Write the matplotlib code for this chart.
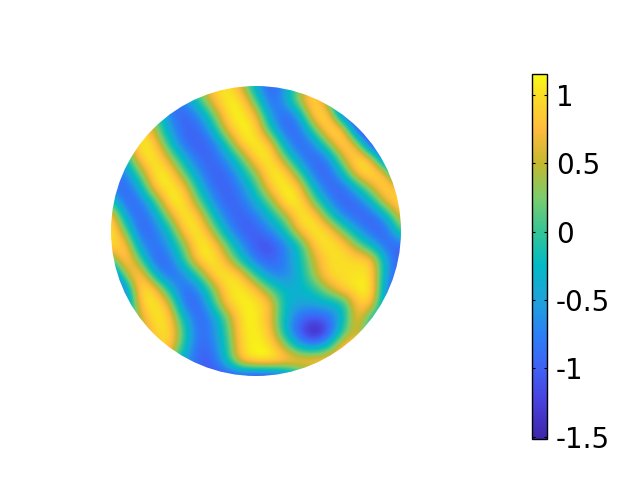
import numpy as np
import matplotlib
matplotlib.use('Agg')
import matplotlib.pyplot as plt
from matplotlib.colors import LinearSegmentedColormap
from matplotlib.patches import Circle

# field values, one row per line, top row first
field = np.array([
    [.2, -.3, -.8, -1.05, -.9, -.4, .3, .9, 1.1, .6, -.5, -1.05, -.6, .3, .9, 1, .6, 0, -.7, -1, -1],
    [1.0, .75, -.1, -.9, -1.05, -.7, -.1, .75, 1.14, 1.05, .1, -1.05, -.5, .5, 1.12, .1, -1.2, -1.3, -1.3, -1.2, -1],
    [.9, 1.12, 1.0, .3, -.7, -1.05, -.7, .1, 1.05, 1.15, .8, -.6, -1.05, -.5, 1.05, 1.08, -1.0, -1.4, -1.4, -1.2, -1],
    [.3, 1.12, 1.14, .45, -.5, -1.0, -1.0, -.4, .75, 1.15, 1.05, -.1, -1.0, -.9, .1, 1.15, 1.0, -1.3, -1.5, -1.2, -1],
    [-.8, .4, 1.15, 1.0, -.1, -.9, -1.05, -.9, -.1, 1.0, 1.15, .9, -.5, -1.05, -.7, .3, 1.15, .6, -1.5, -1.4, -1.2],
    [-1.0, -.3, .95, 1.15, .55, -.35, -.95, -1.0, -.6, .1, 1.05, 1.15, .3, -.7, -1.05, -.75, .55, 1.15, .75, -1.3, -1.3],
    [-1.0, -.7, .2, 1.12, 1.1, .2, -.6, -1.05, -.95, -.35, .35, 1.15, 1.05, .1, -.9, -1.05, -.25, .95, 1.15, .75, -1.2],
    [-.8, -1.05, -.4, .9, 1.15, .9, -.2, -.9, -1.05, -.7, -.05, .9, 1.18, .9, -.35, -1.0, -1.0, -.25, .55, 1.15, .6],
    [0, -1.0, -.9, -.1, 1.12, 1.12, .3, -.6, -1.05, -.9, -.4, .2, 1.15, 1.12, .3, -.6, -1.05, -.95, -.3, .75, 1.08],
    [1.12, -.5, -1.05, -.6, .4, 1.18, .9, -.1, -.85, -1.05, -.8, -.3, .3, 1.15, 1.05, .1, -.7, -1.0, -1.05, -.4, .75],
    [1.15, .3, -1.05, -.85, -.3, .9, 1.18, .45, -.5, -1.05, -1.05, -.7, -.2, .8, 1.14, 1.0, .25, -.5, -1.0, -1.05, .2],
    [1.0, 1.0, -.6, -.95, -.55, .2, 1.15, 1.05, .2, -.6, -1.1, -1.2, -.75, -.2, .9, 1.08, 1.0, .3, -.3, -1.0, -1.0],
    [0, 1.15, .2, -1.05, -.9, -.05, .95, 1.15, .65, -.2, -.85, -1.05, -.75, -.25, .5, 1.0, 1.0, 1.0, .95, -.5, -1.1],
    [-1.4, .5, 1.12, -.3, -1.05, -.7, 0, 1.0, 1.15, .85, -.1, -.7, -.8, -.35, .4, 1.0, 1.0, 1.02, 1.05, -.6, -1.1],
    [-1.4, -.8, 1.15, .95, -.2, -1.0, -.7, .2, 1.05, 1.12, .85, .1, -.3, -.35, -.1, .45, 1.0, 1.1, 1.18, -.8, -1.1],
    [-1, -1, .9, 1.15, .7, -.9, -1.05, -.1, .9, 1.12, 1.08, .85, -.3, -.45, -.45, -.35, -.25, .9, .95, -.9, -1],
    [-1, -.6, .5, 1.1, 1.0, -.2, -1.05, -.7, .2, 1.08, 1.12, .7, -.3, -.95, -1.1, -.95, -.35, .95, -.2, -.6, -.5],
    [-.8, -.4, .3, .9, 1.1, .1, -.95, -.75, .05, 1.05, 1.12, .85, -.3, -1.1, -1.7, -1.2, 0, .75, -.5, -.5, -.5],
    [-.6, -.2, .3, .8, 1.05, -.1, -1.0, -.85, -.1, 1.0, 1.12, 1.08, .45, -.4, -.6, -.15, 1.0, 1.0, 0, -.3, -.3],
    [-.5, -.2, .2, .5, .3, -.5, -1.0, -1.05, -.2, .9, 1.18, 1.18, 1.05, 1.05, 1.05, 1.05, 1.0, .6, .3, 0, 0],
    [-.5, -.3, 0, .2, 0, -.6, -1.0, -1.1, -1.2, -1.2, -1.4, -1.3, -1.1, -.5, 0, .3, .5, .5, .4, .3, .2],
])

# colour bar stops, value and colour
cbar_values = [-1.515, -1.25, -1.0, -0.75, -0.5, -0.25, 0.0, 0.25, 0.5, 0.75, 1.0, 1.15]
cbar_colors = ['#3e26a8', '#4840dc', '#4062f5', '#2a80f5', '#1ea3da', '#02bac6',
               '#34c596', '#7ccd6c', '#c4b82f', '#ffbb3d', '#fade26', '#f9fb15']
tick_values = [-1.5, -1, -0.5, 0, 0.5, 1]
tick_labels = ['-1.5', '-1', '-0.5', '0', '0.5', '1']

vmin, vmax = cbar_values[0], cbar_values[-1]
stops = [(v - vmin) / (vmax - vmin) for v in cbar_values]
cmap = LinearSegmentedColormap.from_list('parula_like', list(zip(stops, cbar_colors)), N=256)

fig = plt.figure(figsize=(6.4, 4.8), dpi=100)
ax = fig.add_axes([111 / 640, (480 - 376) / 480, 290 / 640, 290 / 480])

cell = 2 / (field.shape[0] - 1)
im = ax.imshow(field, cmap=cmap, vmin=vmin, vmax=vmax, interpolation='bicubic',
               extent=(-1 - cell / 2, 1 + cell / 2, -1 - cell / 2, 1 + cell / 2), aspect='equal')
disc = Circle((0, 0), 1, transform=ax.transData)
im.set_clip_path(disc)
ax.set_xlim(-1, 1)
ax.set_ylim(-1, 1)
ax.axis('off')

cax = fig.add_axes([532 / 640, (480 - 439) / 480, 15 / 640, 365 / 480])
cb = fig.colorbar(im, cax=cax)
cb.set_ticks(tick_values)
cb.set_ticklabels(tick_labels)
cb.outline.set_linewidth(1)
cax.tick_params(which='both', direction='in', left=True, right=True, length=2.5, width=0.8,
                labelsize=20, pad=6.5)
cax.minorticks_off()

fig.savefig('out.png', dpi=100)
